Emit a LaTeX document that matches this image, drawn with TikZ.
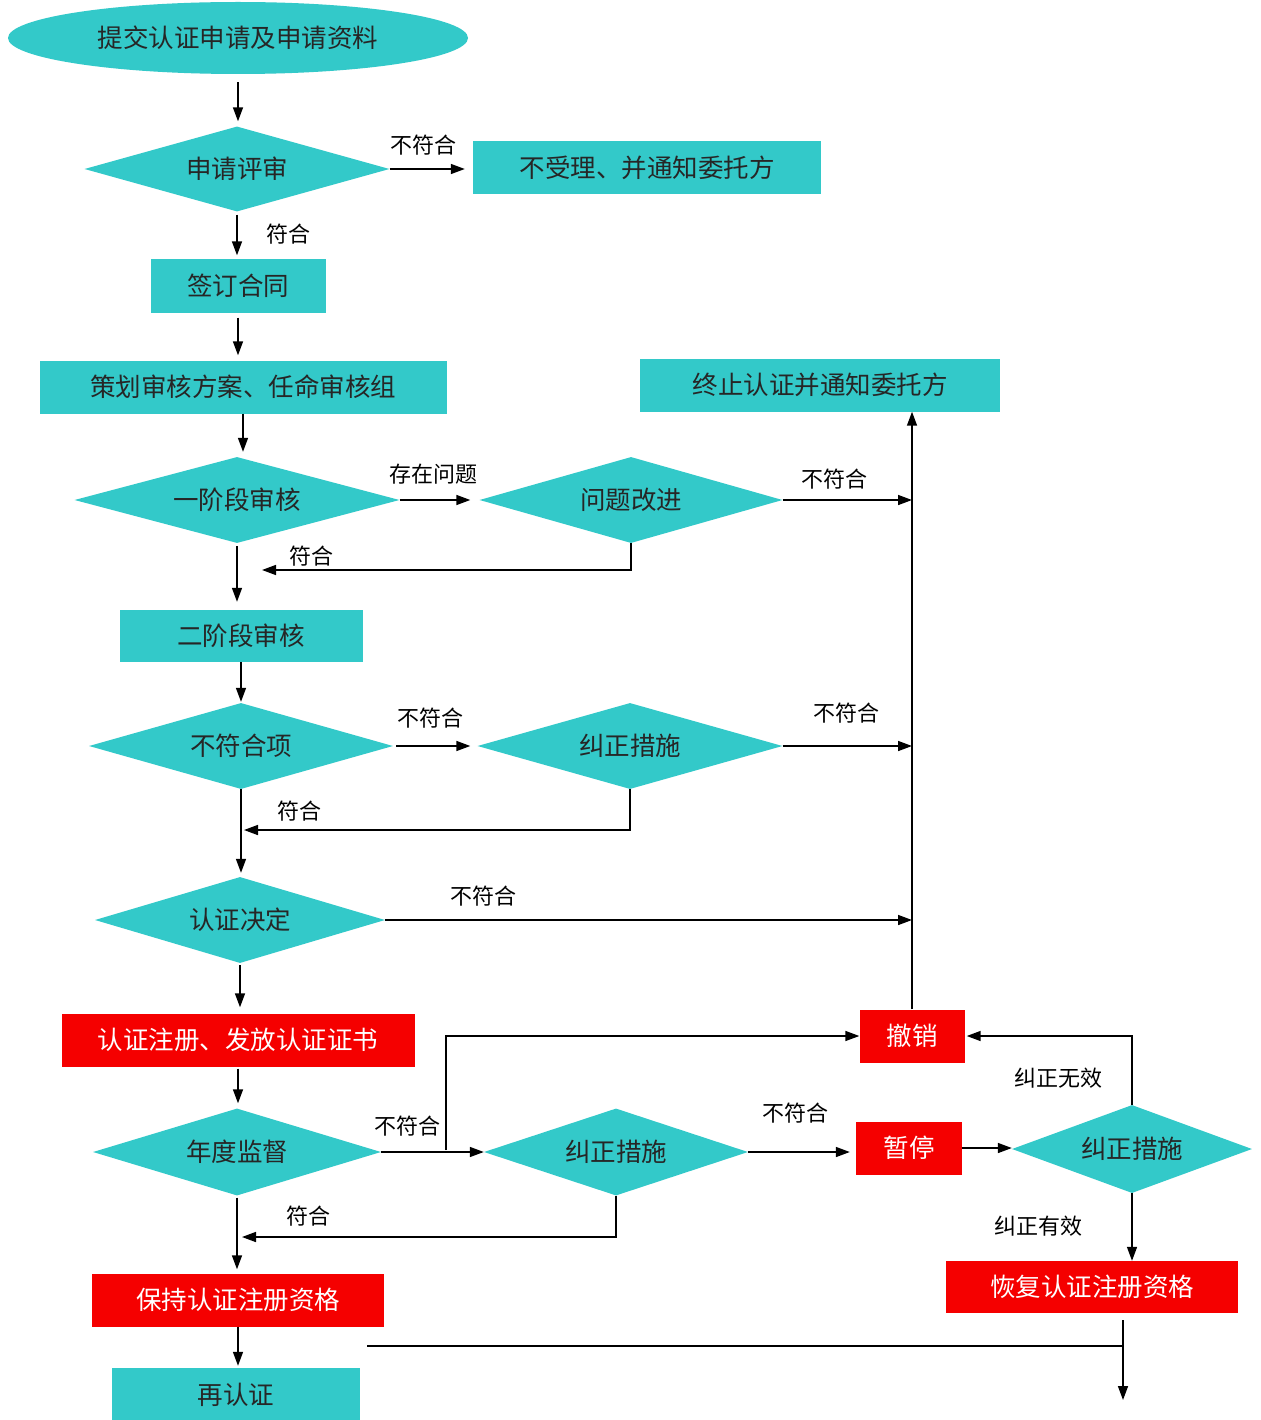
\documentclass[tikz,border=0pt]{standalone}
\usepackage{fontspec}
\newfontfamily\cjk{Noto Sans CJK SC}
\usetikzlibrary{shapes.geometric,arrows.meta}
\definecolor{tealfill}{RGB}{51,201,201}
\definecolor{redfill}{RGB}{245,0,0}
\begin{document}
\begin{tikzpicture}[x=1pt,y=-1pt,
  base/.style={inner sep=0pt, font=\cjk\fontsize{25.5}{30}\selectfont},
  box/.style={base, rectangle, fill=tealfill, text=black!85},
  redbox/.style={base, rectangle, fill=redfill, text=white},
  dia/.style={base, diamond, aspect=5, fill=tealfill, text=black!85},
  lab/.style={inner sep=0pt, font=\cjk\fontsize{22}{26}\selectfont, text=black},
  ln/.style={line width=1.5pt, black},
  arr/.style={ln, -{Triangle[length=14pt,width=10pt]}}]
\useasboundingbox (0,0) rectangle (1260,1420);
\fill[white] (0,0) rectangle (1260,1420);

% nodes
\node[base, ellipse, fill=tealfill, text=black!85, minimum width=460pt, minimum height=72pt] (e) at (238,38) {提交认证申请及申请资料};
\node[dia, minimum width=305pt, minimum height=85pt] (d1) at (237,169) {申请评审};
\node[box, minimum width=348pt, minimum height=53pt] (r1) at (647,168) {不受理、并通知委托方};
\node[box, minimum width=175pt, minimum height=53pt] (r2) at (238,286) {签订合同};
\node[box, minimum width=407pt, minimum height=53pt] (r3) at (243,387) {策划审核方案、任命审核组};
\node[dia, minimum width=325pt, minimum height=86pt] (d2) at (237,500) {一阶段审核};
\node[dia, minimum width=303pt, minimum height=86pt] (d3) at (631,500) {问题改进};
\node[box, minimum width=243pt, minimum height=52pt] (r4) at (241,636) {二阶段审核};
\node[dia, minimum width=304pt, minimum height=86pt] (d4) at (241,746) {不符合项};
\node[dia, minimum width=305pt, minimum height=86pt] (d5) at (630,746) {纠正措施};
\node[dia, minimum width=290pt, minimum height=86pt] (d6) at (240,920) {认证决定};
\node[redbox, minimum width=353pt, minimum height=53pt] (red1) at (238,1040) {认证注册、发放认证证书};
\node[dia, minimum width=288pt, minimum height=87pt] (d7) at (237,1152) {年度监督};
\node[dia, minimum width=264pt, minimum height=87pt] (d8) at (616,1152) {纠正措施};
\node[redbox, minimum width=106pt, minimum height=53pt] (red2) at (909,1148) {暂停};
\node[dia, minimum width=240pt, minimum height=88pt] (d9) at (1132,1149) {纠正措施};
\node[redbox, minimum width=105pt, minimum height=53pt] (red3) at (912,1036) {撤销};
\node[box, minimum width=360pt, minimum height=53pt] (r5) at (820,385) {终止认证并通知委托方};
\node[redbox, minimum width=292pt, minimum height=52pt] (red4) at (1092,1287) {恢复认证注册资格};
\node[redbox, minimum width=292pt, minimum height=53pt] (red5) at (238,1300) {保持认证注册资格};
\node[box, minimum width=248pt, minimum height=54pt] (r6) at (236,1395) {再认证};

% coordinates
\coordinate (fb1) at (262,570);
\coordinate (fb2) at (244,830);
\coordinate (fb3) at (242,1237);
\coordinate (br) at (446,1150);
\coordinate (rs) at (1123,1320);
\coordinate (re) at (1123,1400);
\coordinate (hl) at (367,1346);

% connectors
\draw[arr, shorten <=8pt, shorten >=5pt] (e.south) -- (e.south |- d1.north);
\draw[arr, shorten >=8pt] (d1.east) -- (d1.east -| r1.west);
\draw[arr, shorten <=3pt, shorten >=4pt] (d1.south) -- (d1.south |- r2.north);
\draw[arr, shorten <=5pt, shorten >=5pt] (r2.south) -- (r2.south |- r3.north);
\draw[arr, shorten >=5pt] (r3.south) -- (r3.south |- d2.north);
\draw[arr, shorten >=9pt] (d2.east) -- (d2.east -| d3.west);
\draw[arr] (d3.east) -- (d3.east -| red3.north);
\draw[arr] (d3.south) |- (fb1);
\draw[arr, shorten <=3pt, shorten >=8pt] (d2.south) -- (d2.south |- r4.north);
\draw[arr, shorten >=1pt] (r4.south) -- (r4.south |- d4.north);
\draw[arr, shorten <=3pt, shorten >=7pt] (d4.east) -- (d4.east -| d5.west);
\draw[arr] (d5.east) -- (d5.east -| red3.north);
\draw[arr] (d5.south) |- (fb2);
\draw[arr, shorten >=4pt] (d4.south) -- (d4.south |- d6.north);
\draw[arr] (d6.east) -- (d6.east -| red3.north);
\draw[arr, shorten <=2pt, shorten >=6pt] (d6.south) -- (d6.south |- red1.north);
\draw[arr, shorten <=2pt, shorten >=5pt] (red1.south) -- (red1.south |- d7.north);
\draw[arr] (d7.east) -- (d7.east -| d8.west);
\draw[arr] (br) |- (red3.west);
\draw[arr, shorten >=6pt] (d8.east) -- (d8.east -| red2.west);
\draw[arr] (red2.east) -- (red2.east -| d9.west);
\draw[arr, shorten >=2pt] (d9.north) |- (red3.east);
\draw[arr] (d9.south) -- (d9.south |- red4.north);
\draw[arr] (red3.north) -- (red3.north |- r5.south);
\draw[arr] (d8.south) |- (fb3);
\draw[arr, shorten <=2pt, shorten >=4pt] (d7.south) -- (d7.south |- red5.north);
\draw[arr, shorten >=2pt] (red5.south) -- (red5.south |- r6.north);
\draw[arr] (rs) -- (re);
\draw[ln] (hl) -- (hl -| re);

% labels
\node[lab] (l1) at (423,145) {不符合};
\node[lab] (l2) at (288,234) {符合};
\node[lab] (l3) at (433,474) {存在问题};
\node[lab] (l4) at (834,479) {不符合};
\node[lab] (l5) at (311,556) {符合};
\node[lab] (l6) at (430,718) {不符合};
\node[lab] (l7) at (846,713) {不符合};
\node[lab] (l8) at (299,811) {符合};
\node[lab] (l9) at (483,896) {不符合};
\node[lab] (l10) at (407,1126) {不符合};
\node[lab] (l11) at (795,1113) {不符合};
\node[lab] (l12) at (1058,1078) {纠正无效};
\node[lab] (l13) at (1038,1226) {纠正有效};
\node[lab] (l14) at (308,1216) {符合};
\end{tikzpicture}
\end{document}
